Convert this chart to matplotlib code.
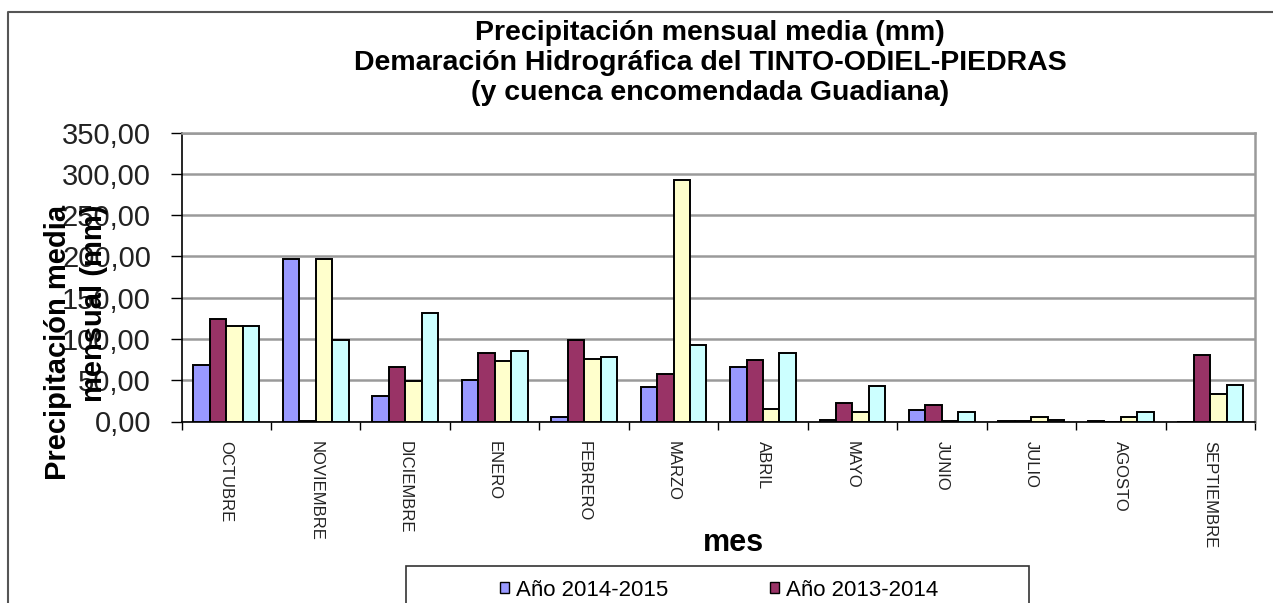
import matplotlib
matplotlib.use("Agg")
import matplotlib.pyplot as plt
from matplotlib.patches import Patch, Rectangle
from matplotlib.lines import Line2D
from matplotlib.ticker import FuncFormatter, FixedLocator

plt.rcParams['font.family'] = ['Liberation Sans', 'DejaVu Sans']

meses = ["OCTUBRE", "NOVIEMBRE", "DICIEMBRE", "ENERO", "FEBRERO", "MARZO",
         "ABRIL", "MAYO", "JUNIO", "JULIO", "AGOSTO", "SEPTIEMBRE"]
anio_2014_2015 = [68.0, 197.0, 31.2, 50.6, 4.9, 41.3, 65.5, 2.0, 13.8, 0.5, 1.2, 0.0]
anio_2013_2014 = [124.6, 0.5, 65.5, 82.5, 99.1, 57.9, 74.4, 22.3, 19.4, 0.5, 0.0, 80.5]
serie_3 = [116.1, 197.0, 48.6, 73.2, 75.7, 292.5, 15.0, 11.7, 0.4, 4.9, 5.7, 33.6]
serie_4 = [116.1, 99.1, 131.5, 85.8, 77.7, 92.2, 82.9, 43.3, 11.3, 1.5, 11.3, 43.7]
legend_labels = ["Año 2014-2015", "Año 2013-2014"]
y_ticks = [0, 50, 100, 150, 200, 250, 300, 350]

colores = ["#9999FF", "#993366", "#FFFFCC", "#CCFFFF"]
series = [anio_2014_2015, anio_2013_2014, serie_3, serie_4]

W, H = 1273, 603
fig = plt.figure(figsize=(W / 100, H / 100), dpi=100)
fig.patch.set_facecolor("white")

x0, x1, yb, yt = 181.5, 1255, 421.5, 132.5
ax = fig.add_axes([x0 / W, 1 - yb / H, (x1 - x0) / W, (yb - yt) / H])

bw = 0.184
n = len(meses)
for j, (vals, c) in enumerate(zip(series, colores)):
    xs = [i + (j - 1.5) * bw for i in range(n)]
    ax.bar(xs, vals, width=bw, color=c, edgecolor="black", linewidth=1.4, zorder=3)

ax.set_xlim(-0.5, n - 0.5)
ax.set_ylim(0, 350)
ax.set_yticks(y_ticks)
ax.yaxis.set_major_formatter(FuncFormatter(lambda v, p: f"{v:.2f}".replace(".", ",")))
ax.tick_params(axis="y", labelsize=21, length=8, width=1, pad=14, colors="black")
for lbl in ax.get_yticklabels():
    lbl.set_color("#222222")
ax.yaxis.grid(True, color="#9a9a9a", linewidth=1.8, zorder=0)
ax.set_axisbelow(True)

ax.xaxis.set_major_locator(FixedLocator([k - 0.5 for k in range(n + 1)]))
ax.xaxis.set_minor_locator(FixedLocator(list(range(n))))
ax.set_xticklabels([], minor=False)
ax.set_xticklabels(meses, minor=True, rotation=-90, fontsize=12, va="top", ha="center",
                   color="#222222")
ax.tick_params(axis="x", which="major", length=6, width=1)
ax.tick_params(axis="x", which="minor", length=0, pad=14)

for s in ["left", "bottom"]:
    ax.spines[s].set_color("black")
    ax.spines[s].set_linewidth(1.2)
for s in ["top", "right"]:
    ax.spines[s].set_color("#9a9a9a")
    ax.spines[s].set_linewidth(1.8)

fig.text(710 / W, 1 - 63 / H,
         "Precipitación mensual media (mm)\nDemaración Hidrográfica del TINTO-ODIEL-PIEDRAS\n(y cuenca encomendada Guadiana)",
         ha="center", va="center", fontsize=20.5, fontweight="bold", linespacing=1.18)

fig.text(76 / W, 1 - 342 / H, "Precipitación media\nmensual (mm)", rotation=90,
         ha="center", va="center", multialignment="right", fontsize=21,
         fontweight="bold", linespacing=1.35)

fig.text(733 / W, 1 - 543 / H, "mes", ha="center", va="center", fontsize=22,
         fontweight="bold")

# legend
handles = [Patch(facecolor=colores[0], edgecolor="black", linewidth=1),
           Patch(facecolor=colores[1], edgecolor="black", linewidth=1)]
leg = fig.legend(handles, legend_labels, loc="center", ncol=2,
                 bbox_to_anchor=(719 / W, 1 - 590 / H), frameon=False,
                 fontsize=16, handlelength=0.42, handleheight=0.42,
                 handletextpad=0.3, columnspacing=4.6)
fig.patches.append(Rectangle((406 / W, -0.05), 623 / W, (603 - 566) / H + 0.05,
                             transform=fig.transFigure, fill=False,
                             edgecolor="#333333", linewidth=1.2))

# chart area border (top and left)
fig.lines.append(Line2D([8 / W, 8 / W, 1.0], [0.0, 1 - 12 / H, 1 - 12 / H],
                        transform=fig.transFigure, color="#555555", linewidth=1.5))

fig.savefig("out.png", dpi=100)
